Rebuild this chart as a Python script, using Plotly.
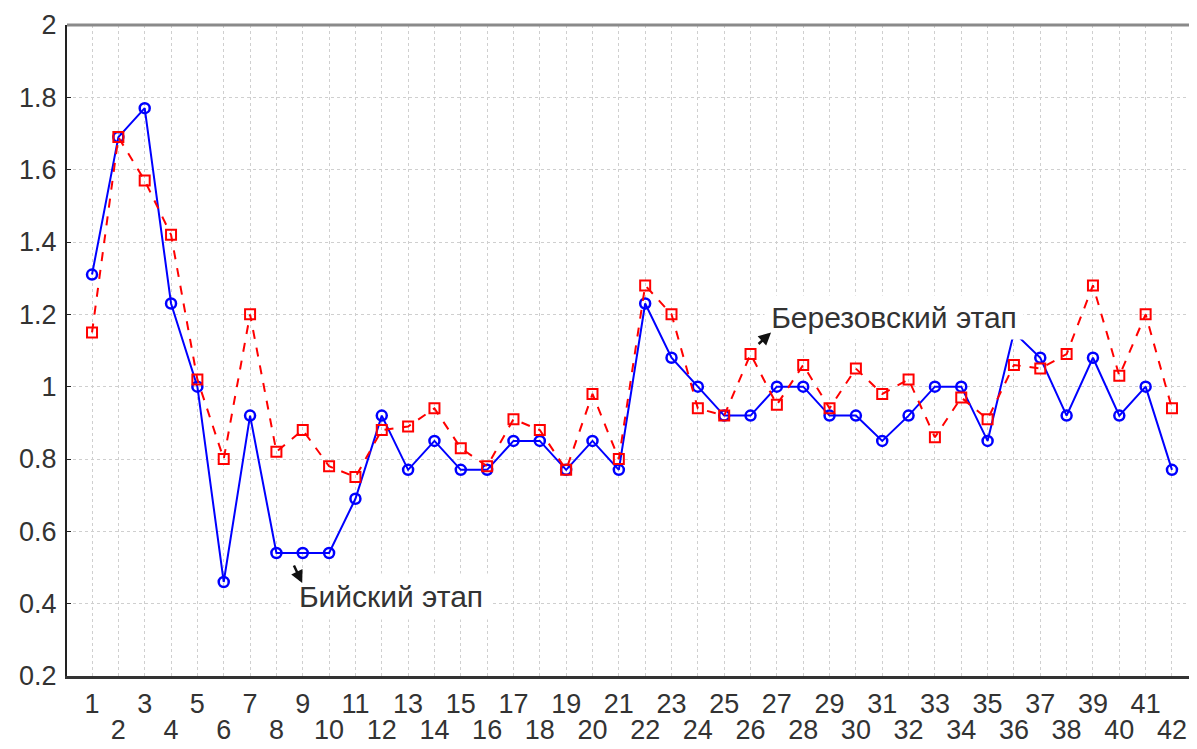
import plotly.graph_objects as go

points = list(range(1, 43))
biysk = [1.31, 1.69, 1.77, 1.23, 1.00, 0.46, 0.92, 0.54, 0.54, 0.54,
         0.69, 0.92, 0.77, 0.85, 0.77, 0.77, 0.85, 0.85, 0.77, 0.85,
         0.77, 1.23, 1.08, 1.00, 0.92, 0.92, 1.00, 1.00, 0.92, 0.92,
         0.85, 0.92, 1.00, 1.00, 0.85, 1.15, 1.08, 0.92, 1.08, 0.92,
         1.00, 0.77]
berez = [1.15, 1.69, 1.57, 1.42, 1.02, 0.80, 1.20, 0.82, 0.88, 0.78,
         0.75, 0.88, 0.89, 0.94, 0.83, 0.78, 0.91, 0.88, 0.77, 0.98,
         0.80, 1.28, 1.20, 0.94, 0.92, 1.09, 0.95, 1.06, 0.94, 1.05,
         0.98, 1.02, 0.86, 0.97, 0.91, 1.06, 1.05, 1.09, 1.28, 1.03,
         1.20, 0.94]
odd_ticks = [p for p in points if p % 2 == 1]
even_ticks = [p for p in points if p % 2 == 0]
y_ticks = [0.2, 0.4, 0.6, 0.8, 1, 1.2, 1.4, 1.6, 1.8, 2]
y_ticktext = ["0.2", "0.4", "0.6", "0.8", "1", "1.2", "1.4", "1.6", "1.8", "2"]

FONT = "Liberation Sans"
XR = [0.05, 42.95]
TICKFONT = dict(family=FONT, size=27, color="#333333")

fig = go.Figure()
fig.add_trace(go.Scatter(
    x=points, y=biysk, mode="lines+markers",
    line=dict(color="#0000ff", width=2),
    marker=dict(symbol="circle-open", size=10, color="#0000ff", line=dict(width=2.5)),
    showlegend=False))
fig.add_trace(go.Scatter(
    x=points, y=berez, mode="lines+markers",
    line=dict(color="#ff0000", width=2, dash="dash"),
    marker=dict(symbol="square-open", size=10, color="#ff0000", line=dict(width=2)),
    showlegend=False))
# invisible carrier so the second (even-label) x axis is drawn
fig.add_trace(go.Scatter(
    x=points, y=biysk, xaxis="x2", yaxis="y", mode="markers",
    marker=dict(opacity=0), hoverinfo="skip", showlegend=False))

# page body has an 8px margin, so the figure is sized to end at the window edge
fig.update_layout(
    width=1189, height=741,
    margin=dict(l=59, r=0, t=17, b=73, autoexpand=False),
    paper_bgcolor="white", plot_bgcolor="white",
    font=dict(family=FONT, size=27, color="#333333"),
    xaxis=dict(range=XR, tickvals=points,
               ticktext=[str(p) if p % 2 == 1 else "" for p in points],
               showgrid=True, gridcolor="#cfcfcf", griddash="dot", gridwidth=1,
               showline=True, linecolor="#333333", linewidth=3,
               ticks="", zeroline=False, automargin=False,
               ticklabelstandoff=2, tickfont=TICKFONT),
    xaxis2=dict(range=XR, overlaying="x", anchor="y", side="bottom",
                tickvals=even_ticks, ticktext=[str(p) for p in even_ticks],
                showgrid=False, showline=False, ticks="", zeroline=False,
                ticklabelstandoff=35, automargin=False,
                tickfont=TICKFONT),
    yaxis=dict(range=[0.2, 2], tickvals=y_ticks, ticktext=y_ticktext,
               showgrid=True, gridcolor="#cfcfcf", griddash="dot", gridwidth=1,
               showline=True, linecolor="#222222", linewidth=2,
               ticks="inside", ticklen=4, tickcolor="#222222", zeroline=False,
               automargin=False, ticklabelstandoff=3, tickfont=TICKFONT),
)

# top frame line
fig.add_shape(type="line", xref="paper", yref="paper", x0=0, x1=1, y0=1, y1=1,
              line=dict(color="#8a8a8a", width=3))

# text labels with white boxes
fig.add_annotation(x=12.35, y=0.4186, xref="x", yref="y", text="Бийский этап",
                   showarrow=False, bgcolor="white", width=198, height=43,
                   borderpad=1, font=dict(family=FONT, size=30, color="#333333"))
fig.add_annotation(x=31.45, y=1.19, xref="x", yref="y", text="Березовский этап",
                   showarrow=False, bgcolor="white", width=256, height=41,
                   borderpad=1, font=dict(family=FONT, size=30, color="#333333"))
# arrows
fig.add_annotation(x=8.98, y=0.457, xref="x", yref="y", text="", showarrow=True,
                   ax=-9, ay=-19, arrowhead=2, arrowsize=1, arrowwidth=2.5,
                   arrowcolor="#111111")
fig.add_annotation(x=26.78, y=1.15, xref="x", yref="y", text="", showarrow=True,
                   ax=-14, ay=13, arrowhead=2, arrowsize=1, arrowwidth=2.5,
                   arrowcolor="#111111")

fig.write_html("out.html")
